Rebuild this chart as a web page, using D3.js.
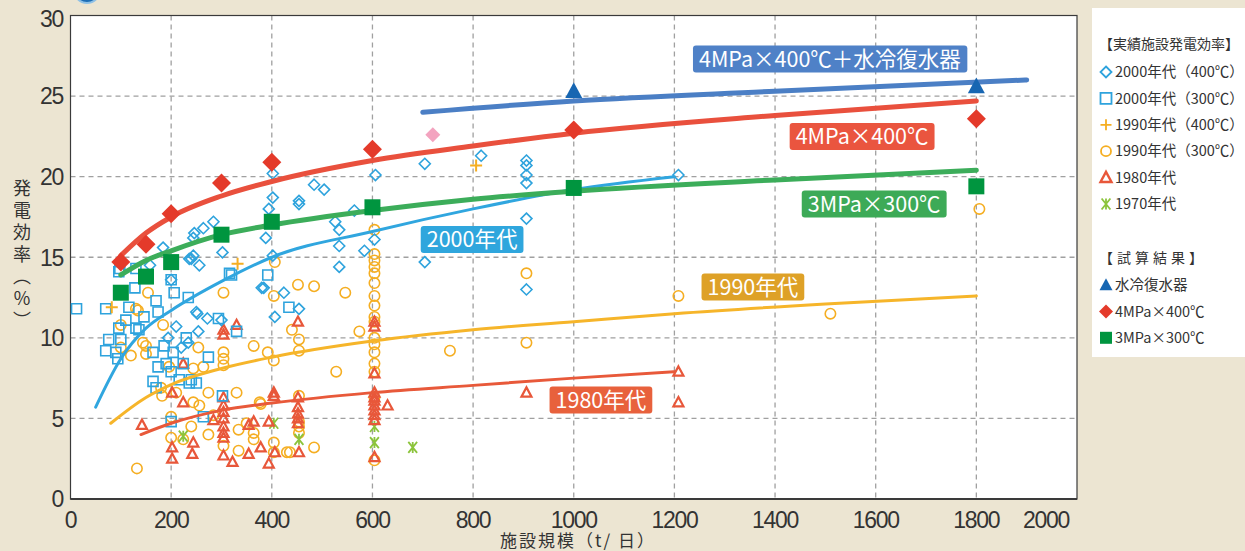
<!DOCTYPE html>
<html>
<head>
<meta charset="utf-8">
<script src="https://d3js.org/d3.v7.min.js"></script>
<style>
  body { margin: 0; background: #ece5d2; }
  svg { display: block; font-family: "Liberation Sans", Arial, sans-serif; }
  .jp { font-family: "Noto Sans CJK JP", "Noto Sans", sans-serif; }
</style>
</head>
<body>
<div id="chart"></div>
<script>
// ---- data (x: t/day, y: %) ----
const xTicks = [0, 200, 400, 600, 800, 1000, 1200, 1400, 1600, 1800, 2000];
const yTicks = [0, 5, 10, 15, 20, 25, 30];

// measured plants
const squares2000 = [[12,11.8],[70,11.8],[96,14.1],[128,13.1],[116,11.9],[146,11.3],[110,11.1],[130,10.6],[96,10.6],[136,10.5],
  [170,12.3],[174,11.6],[200,13.6],[206,12.8],[234,12.5],[230,10.0],[70,9.2],[76,9.9],[100,9.9],[90,9.1],[94,8.7],[164,9.1],
  [186,9.5],[204,9.1],[174,8.2],[190,8.4],[224,8.4],[200,7.9],[164,7.3],[216,7.4],[250,7.2],[170,6.9],[236,7.2],[316,14.0],
  [392,13.9],[320,13.9],[434,11.9],[294,11.2],[330,10.4],[274,8.8],[240,7.4],[302,6.4],[264,5.1],[200,4.8],[130,14.3],[98,14.3]];
const diamonds2000 = [[402,20.2],[402,18.7],[394,18.0],[484,19.5],[504,19.2],[454,18.5],[454,18.3],[564,17.9],[606,20.1],[526,17.2],
  [534,16.7],[534,15.7],[388,16.2],[402,15.1],[584,15.4],[534,14.4],[384,13.1],[424,12.8],[284,17.2],[264,16.8],[246,16.5],
  [244,16.2],[302,15.3],[256,14.5],[240,14.9],[604,16.1],[406,11.3],[454,11.8],[252,11.5],[272,11.2],[254,10.4],[234,9.7],
  [184,15.6],[244,15.1],[200,13.6],[250,11.6],[210,10.7],[194,10.0],[220,9.4],[300,11.1],[380,13.1],[158,14.5],[704,20.8],
  [816,21.3],[906,21.0],[906,20.7],[906,20.1],[906,19.6],[906,17.4],[704,14.7],[906,13.0],[1208,20.1],[236,14.9]];
const pluses1990 = [[82,11.9],[332,14.6],[806,20.7]];
const circles1990 = [[304,12.8],[154,12.8],[134,11.7],[130,11.8],[100,10.8],[184,10.8],[100,9.4],[120,8.9],[150,9.5],[150,9.0],
  [144,9.7],[196,8.2],[254,9.4],[244,8.1],[264,8.2],[304,9.1],[304,8.7],[304,8.3],[364,9.5],[180,6.9],[182,6.4],[210,6.6],
  [244,6.0],[256,5.8],[274,6.6],[330,6.6],[200,5.1],[240,4.5],[200,3.8],[224,3.7],[274,4.0],[284,5.2],[304,3.3],[334,4.3],
  [334,3.0],[350,4.7],[364,4.1],[364,3.7],[376,6.0],[404,3.5],[132,1.9],[404,2.9],[430,2.9],[406,14.7],[404,12.6],[452,13.3],
  [484,13.2],[546,12.8],[440,10.5],[454,9.9],[454,9.2],[574,10.4],[392,9.1],[404,8.6],[528,7.9],[378,5.9],[454,6.4],[454,4.8],
  [454,4.5],[454,4.1],[484,3.2],[436,2.9],[604,16.7],[604,15.2],[604,14.8],[604,14.4],[604,14.0],[604,13.4],[604,12.6],[604,12.0],
  [604,11.3],[604,11.0],[604,10.0],[604,9.6],[604,9.1],[604,8.4],[604,7.9],[604,6.3],[604,2.4],[906,14.0],[906,9.7],[754,9.2],
  [1208,12.6],[1510,11.5],[1806,18.0]];
const triangles1980 = [[202,6.6],[224,6.0],[142,4.6],[304,6.3],[304,5.8],[304,5.4],[304,5.0],[304,4.5],[304,4.1],[304,3.8],
  [284,4.9],[202,3.2],[202,2.5],[244,3.5],[242,2.8],[304,2.7],[322,2.3],[354,2.8],[364,4.8],[378,3.2],[394,4.8],[404,6.6],
  [394,2.2],[406,2.9],[304,10.5],[304,10.2],[330,10.8],[224,8.4],[452,11.0],[604,11.0],[604,10.7],[604,7.8],[604,6.6],[604,6.3],
  [604,6.1],[604,5.8],[604,5.5],[604,5.2],[604,4.9],[630,5.8],[404,6.4],[452,6.3],[452,5.7],[452,5.3],[452,5.0],[452,4.7],
  [354,4.6],[454,2.9],[604,2.6],[906,6.6],[1208,7.9],[1208,6.0]];
const stars1970 = [[224,3.9],[404,4.7],[454,3.7],[604,4.5],[604,3.5],[680,3.2]];

// trial calculations
const simCooling = [[1000,25.3],[1800,25.6]];
const sim400 = [[100,14.7],[150,15.8],[200,17.7],[300,19.6],[400,20.9],[600,21.7],[1000,22.9],[1800,23.6]];
const sim300 = [[100,12.8],[150,13.8],[200,14.7],[300,16.4],[400,17.2],[600,18.1],[1000,19.3],[1800,19.4]];
const simPink = [[720,22.6]];

// trend curves
const curveCooling = [[700,24.0],[1000,24.7],[1400,25.3],[1900,26.0]];
const curve400 = [[100,15.1],[150,16.5],[200,17.5],[300,18.8],[400,19.7],[600,21.0],[800,21.9],[1000,22.7],[1400,23.8],[1800,24.7]];
const curve300 = [[100,13.9],[150,14.8],[200,15.4],[300,16.4],[400,17.0],[600,17.9],[800,18.6],[1000,19.1],[1400,19.8],[1800,20.4]];
const curve2000s = [[50,5.7],[100,8.7],[150,10.6],[200,11.7],[300,13.5],[400,15.0],[600,16.6],[800,18.0],[1000,19.2],[1200,20.0]];
const curve1990s = [[80,4.7],[150,6.3],[200,7.1],[300,8.1],[400,8.8],[600,9.8],[800,10.5],[1000,11.0],[1200,11.5],[1500,12.1],[1800,12.6]];
const curve1980s = [[140,4.0],[200,4.7],[300,5.5],[400,5.95],[600,6.6],[800,7.05],[1000,7.5],[1200,7.9]];

// curve labels: text, centre x, centre y
const labelTexts = ["4MPa×400℃＋水冷復水器", "4MPa×400℃", "3MPa×300℃", "2000年代", "1990年代", "1980年代"];
const labelX = [1509, 1573, 1597, 798, 1356, 1054];
const labelY = [27.3, 22.5, 18.3, 16.1, 13.15, 6.15];

const legendMeasured = ["2000年代（400℃）", "2000年代（300℃）", "1990年代（400℃）", "1990年代（300℃）", "1980年代", "1970年代"];
const legendSim = ["水冷復水器", "4MPa×400℃", "3MPa×300℃"];

// ---- layout ----
const W = 1245, H = 551;
const plot = { left: 70.5, right: 1077, top: 15.5, bottom: 499 };

const svg = d3.select("#chart").append("svg")
  .attr("width", W).attr("height", H);

svg.append("rect").attr("width", W).attr("height", H).attr("fill", "#ece5d2");

// cut-off heading icon at top
svg.append("circle").attr("cx", 87).attr("cy", -10).attr("r", 13)
  .attr("fill", "#1d6db5").attr("stroke", "#8fc1e6").attr("stroke-width", 2);

const x = d3.scaleLinear().domain([0, 2000]).range([plot.left, plot.right]);
const y = d3.scaleLinear().domain([0, 30]).range([plot.bottom, plot.top]);

svg.append("rect")
  .attr("x", plot.left).attr("y", plot.top)
  .attr("width", plot.right - plot.left).attr("height", plot.bottom - plot.top)
  .attr("fill", "#fff");

// dashed grid
svg.append("g").selectAll("line").data(xTicks.slice(1, -1)).join("line")
  .attr("x1", d => x(d)).attr("x2", d => x(d))
  .attr("y1", plot.top).attr("y2", plot.bottom)
  .attr("stroke", "#a0a0a0").attr("stroke-width", 1.3).attr("stroke-dasharray", "5,4");
svg.append("g").selectAll("line").data(yTicks.slice(1, -1)).join("line")
  .attr("x1", plot.left).attr("x2", plot.right)
  .attr("y1", d => y(d)).attr("y2", d => y(d))
  .attr("stroke", "#a0a0a0").attr("stroke-width", 1.3).attr("stroke-dasharray", "5,4");

// frame
svg.append("rect")
  .attr("x", plot.left).attr("y", plot.top)
  .attr("width", plot.right - plot.left).attr("height", plot.bottom - plot.top)
  .attr("fill", "none").attr("stroke", "#3a3a3a").attr("stroke-width", 1.2);
svg.append("line").attr("x1", plot.left).attr("x2", plot.right)
  .attr("y1", plot.bottom).attr("y2", plot.bottom)
  .attr("stroke", "#3a3a3a").attr("stroke-width", 2);

// tick labels
svg.append("g").selectAll("text").data(xTicks).join("text")
  .attr("x", (d, i) => i === xTicks.length - 1 ? x(d) - 8 : x(d))
  .attr("y", 527.5)
  .attr("text-anchor", (d, i) => i === xTicks.length - 1 ? "end" : "middle")
  .attr("font-size", 23).attr("letter-spacing", -1.3).attr("fill", "#333")
  .text(d => d);
svg.append("g").selectAll("text").data(yTicks).join("text")
  .attr("x", 63)
  .attr("y", d => y(d) + (d === 30 ? 3 : 0))
  .attr("dy", "0.36em")
  .attr("text-anchor", "end")
  .attr("font-size", 23).attr("letter-spacing", -1.3).attr("fill", "#333")
  .text(d => d);

// axis titles
svg.append("text").attr("class", "jp")
  .attr("x", 578).attr("y", 547).attr("text-anchor", "middle")
  .attr("font-size", 17).attr("letter-spacing", 2).attr("fill", "#333")
  .text("施設規模（t/ 日）");
svg.append("text").attr("class", "jp")
  .attr("x", 22).attr("y", 179)
  .style("writing-mode", "vertical-rl")
  .attr("font-size", 18).attr("letter-spacing", 4).attr("fill", "#333")
  .text("発電効率（％）");

// ---- markers ----
function markerPath(type, s) {
  const h = s / 2;
  if (type === "diamond") return `M0,${-h}L${h},0L0,${h}L${-h},0Z`;
  if (type === "square") return `M${-h},${-h}H${h}V${h}H${-h}Z`;
  if (type === "triangle") return `M0,${-h * 1.05}L${h},${h * 0.8}L${-h},${h * 0.8}Z`;
  if (type === "plus") return `M${-h},0H${h}M0,${-h}V${h}`;
  if (type === "star") return `M${-h * 0.8},${-h}L${h * 0.8},${h}M${h * 0.8},${-h}L${-h * 0.8},${h}M0,${-h}V${h}`;
  return "";
}

const marks = svg.append("g");
function drawOpen(data, type, size, color, width) {
  marks.append("g").selectAll("path").data(data).join("path")
    .attr("transform", d => `translate(${x(d[0])},${y(d[1])})`)
    .attr("d", markerPath(type, size))
    .attr("fill", "none")
    .attr("stroke", color).attr("stroke-width", width);
}
function drawCircles(data, r, color, width) {
  marks.append("g").selectAll("circle").data(data).join("circle")
    .attr("cx", d => x(d[0])).attr("cy", d => y(d[1])).attr("r", r)
    .attr("fill", "none").attr("stroke", color).attr("stroke-width", width);
}

const cCyan = "#2ea3dd", cOrange = "#f5ae22", cTri = "#e8573a", cStar = "#8cc43c";

drawCircles(circles1990, 5.2, cOrange, 1.6);
drawOpen(stars1970, "star", 11, cStar, 1.8);
drawOpen(triangles1980, "triangle", 10, cTri, 2.2);
drawOpen(squares2000, "square", 10, cCyan, 1.6);
drawOpen(diamonds2000, "diamond", 11, cCyan, 1.6);
drawOpen(pluses1990, "plus", 12, cOrange, 2);

// ---- trend curves ----
const line = d3.line().x(d => x(d[0])).y(d => y(d[1])).curve(d3.curveMonotoneX);
const curves = [
  [curve1980s, "#e8593a", 3],
  [curve1990s, "#f6b52a", 3],
  [curve2000s, "#30a6df", 3],
  [curve300, "#3cad5a", 5],
  [curve400, "#e9503d", 5],
  [curveCooling, "#4b7fc5", 5]
];
curves.forEach(c => {
  svg.append("path").datum(c[0])
    .attr("fill", "none").attr("stroke", c[1]).attr("stroke-width", c[2])
    .attr("stroke-linecap", "round")
    .attr("d", line);
});

// ---- simulation markers ----
const sims = svg.append("g");
sims.selectAll(".s300").data(sim300).join("path")
  .attr("transform", d => `translate(${x(d[0])},${y(d[1])})`)
  .attr("d", markerPath("square", 16)).attr("fill", "#00953f");
sims.selectAll(".s400").data(sim400).join("path")
  .attr("transform", d => `translate(${x(d[0])},${y(d[1])})`)
  .attr("d", markerPath("diamond", 19)).attr("fill", "#e43a2a");
sims.selectAll(".scool").data(simCooling).join("path")
  .attr("transform", d => `translate(${x(d[0])},${y(d[1])})`)
  .attr("d", markerPath("triangle", 17)).attr("fill", "#1766b2");
sims.selectAll(".spink").data(simPink).join("path")
  .attr("transform", d => `translate(${x(d[0])},${y(d[1])})`)
  .attr("d", markerPath("diamond", 15)).attr("fill", "#f3a3bf");

// ---- curve labels ----
const labelColors = ["#4f81c7", "#ea553f", "#3daa57", "#2fa6dd", "#dea127", "#e8613c"];
const labels = svg.append("g").attr("class", "jp");
labelTexts.forEach((t, i) => {
  const g = labels.append("g");
  const txt = g.append("text")
    .attr("x", x(labelX[i])).attr("y", y(labelY[i]))
    .attr("dy", "0.36em").attr("text-anchor", "middle")
    .attr("font-size", 21.5).attr("fill", "#fff").text(t);
  const bb = txt.node().getBBox();
  g.insert("rect", "text")
    .attr("x", bb.x - 6).attr("y", y(labelY[i]) - 13.5)
    .attr("width", bb.width + 12).attr("height", 27)
    .attr("rx", 3).attr("fill", labelColors[i]);
});

// ---- legend panel ----
svg.append("rect").attr("x", 1092).attr("y", 8).attr("width", 153).attr("height", 349).attr("fill", "#fff");
const leg = svg.append("g").attr("class", "jp").attr("font-size", 14.5).attr("fill", "#333");
leg.append("text").attr("x", 1099).attr("y", 49).attr("font-size", 14).text("【実績施設発電効率】");
const legTypes = ["diamond", "square", "plus", "circle", "triangle", "star"];
const legColors = [cCyan, cCyan, cOrange, cOrange, cTri, cStar];
legendMeasured.forEach((t, i) => {
  const cy = 72 + i * 26.4;
  if (legTypes[i] === "circle") {
    leg.append("circle").attr("cx", 1106).attr("cy", cy).attr("r", 5)
      .attr("fill", "none").attr("stroke", legColors[i]).attr("stroke-width", 1.8);
  } else {
    leg.append("path").attr("transform", `translate(1106,${cy})`)
      .attr("d", markerPath(legTypes[i], 11)).attr("fill", "none")
      .attr("stroke", legColors[i]).attr("stroke-width", legTypes[i] === "triangle" ? 2.4 : 1.8);
  }
  leg.append("text").attr("x", 1115).attr("y", cy).attr("dy", "0.36em").text(t);
});
leg.append("text").attr("x", 1099).attr("y", 263).attr("font-size", 14).attr("letter-spacing", 4).text("【試算結果】");
const simTypes = [["triangle", "#1766b2", 13], ["diamond", "#e43a2a", 14], ["square", "#00953f", 12]];
legendSim.forEach((t, i) => {
  const cy = 285 + i * 26.4;
  leg.append("path").attr("transform", `translate(1106,${cy})`)
    .attr("d", markerPath(simTypes[i][0], simTypes[i][2])).attr("fill", simTypes[i][1]);
  leg.append("text").attr("x", 1115).attr("y", cy).attr("dy", "0.36em").text(t);
});
</script>
</body>
</html>
